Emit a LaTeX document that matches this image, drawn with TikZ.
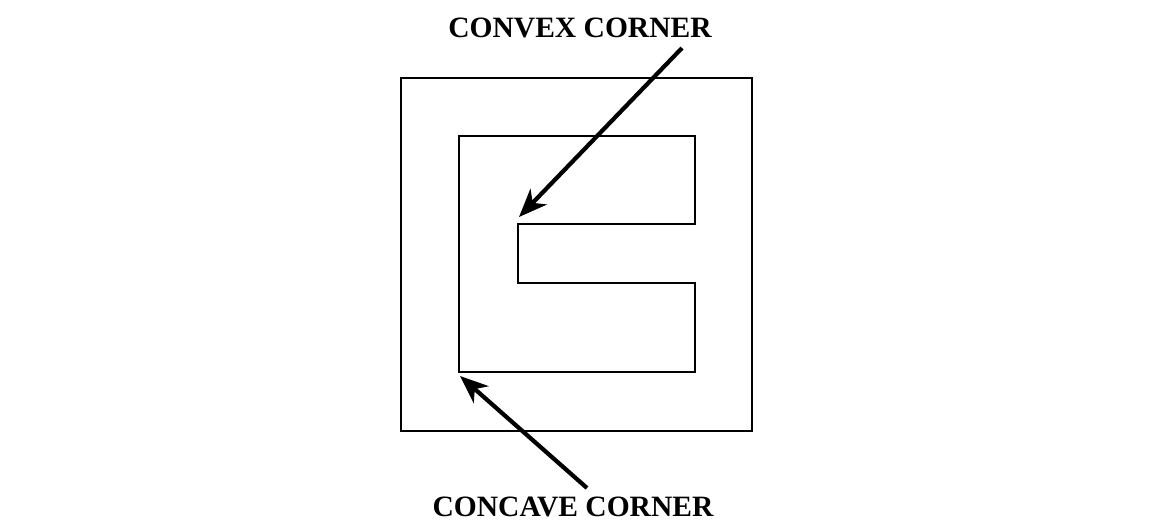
\documentclass[tikz,border=0pt]{standalone}
\usepackage{fontspec}
\setmainfont{Liberation Serif}
\usetikzlibrary{arrows.meta, positioning}

\begin{document}
\begin{tikzpicture}[
        x=0.025cm, y=-0.025cm,
        outline/.style={draw, line width=1.6pt, line join=miter},
        label/.style={font=\bfseries\fontsize{21}{24}\selectfont, inner sep=0pt},
        pointer/.style={-{Stealth[length=20pt, width=16pt, inset=6pt]}, line width=3pt}
    ]
        \useasboundingbox (0,0) rectangle (1156,521);

        % outer frame and E-shaped cavity
        \draw[outline] (401,78) rectangle (752,431);
        \draw[outline] (459,136) -- (695,136) -- (695,224) -- (518,224)
            -- (518,283) -- (695,283) -- (695,372) -- (459,372) -- cycle;

        \coordinate (convexpt) at (519,217);
        \coordinate (concavept) at (460,376);

        \node[label] (convex) at (580,28) {CONVEX CORNER};
        \node[label] (concave) at (573,507) {CONCAVE CORNER};

        \coordinate (convexstart) at (682,48);
        \coordinate (concavestart) at (587,488);

        \draw[pointer] (convexstart) -- (convexpt);
        \draw[pointer] (concavestart) -- (concavept);

    \end{tikzpicture}
\end{document}
